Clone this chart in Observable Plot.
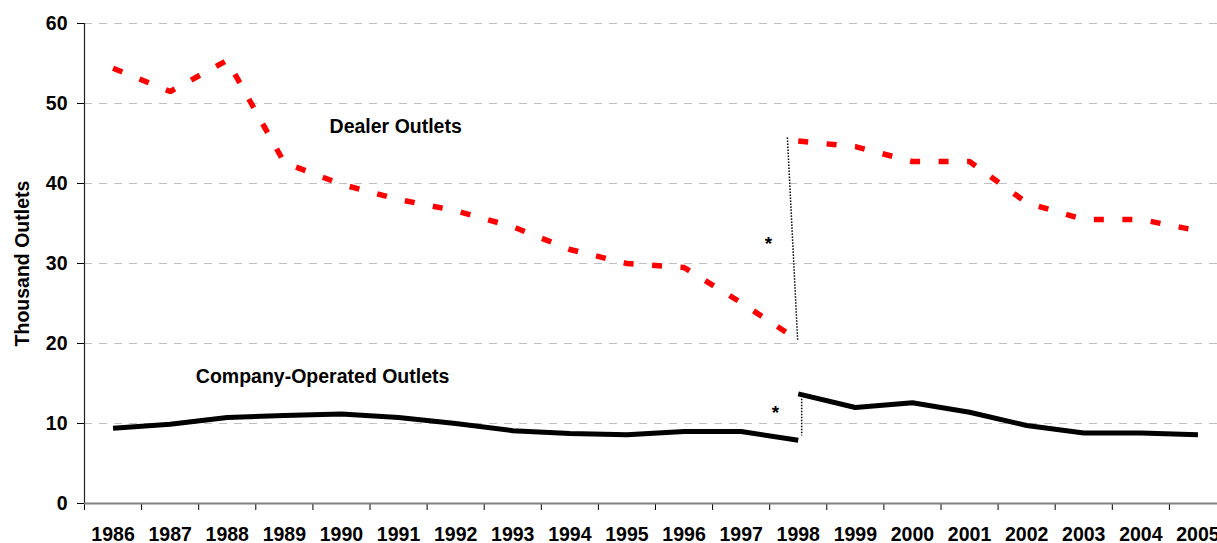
<!DOCTYPE html>
<html>
<head>
<meta charset="utf-8">
<script src="https://cdn.jsdelivr.net/npm/d3@7"></script>
<script src="https://cdn.jsdelivr.net/npm/@observablehq/plot@0.6"></script>
<style>
  html, body { margin: 0; padding: 0; background: #fff; overflow: hidden; }
  svg { font-family: "Liberation Sans", Arial, sans-serif; }
</style>
</head>
<body>
<div id="chart"></div>
<script>
// Category labels (one band per year)
const years = ["1986","1987","1988","1989","1990","1991","1992","1993","1994","1995",
               "1996","1997","1998","1999","2000","2001","2002","2003","2004","2005"];

// Dealer outlets (thousands), old series 1986-1998 and new series 1998-2005
const dealerOldYears = ["1986","1987","1988","1989","1990","1991","1992","1993","1994","1995","1996","1997","1998"];
const dealerOld = [54.4, 51.5, 55.4, 42.6, 39.9, 38.0, 36.6, 34.6, 31.75, 30.0, 29.5, 25.1, 20.4];
const dealerNewYears = ["1998","1999","2000","2001","2002","2003","2004","2005"];
const dealerNew = [45.3, 44.6, 42.75, 42.75, 37.6, 35.5, 35.5, 34.1];

// Company-operated outlets (thousands)
const companyOldYears = dealerOldYears;
const companyOld = [9.4, 9.9, 10.75, 11.0, 11.2, 10.75, 10.0, 9.1, 8.75, 8.6, 9.0, 9.0, 7.9];
const companyNewYears = dealerNewYears;
const companyNew = [13.7, 12.0, 12.6, 11.4, 9.75, 8.8, 8.8, 8.6];

// Y ticks
const yTicks = [0, 10, 20, 30, 40, 50, 60];

// Series labels
const labelText = ["Dealer Outlets", "Company-Operated Outlets"];
const labelPos = [5.45, 4.17];
const labelVal = [47.1, 15.9];

// Series-break annotations (asterisks and dotted connectors), in band-index / value units
const starPos = [11.98, 12.1];
const starVal = [32.4, 11.3];
const breakX1 = [12.31, 12.56];
const breakY1 = [45.75, 13.1];
const breakX2 = [12.49, 12.56];
const breakY2 = [20.4, 8.5];

const idx = (y) => years.indexOf(y) + 0.5;
const toRows = (ys, vs) => ys.map((y, i) => ({x: idx(y), v: vs[i]}));

const W = 1217, H = 543;
const font = "Liberation Sans, Arial, sans-serif";

const plot = Plot.plot({
  width: W,
  height: H,
  marginLeft: 84,
  marginRight: -9,
  marginTop: 23,
  marginBottom: 40,
  style: {fontFamily: font, background: "#fff", overflow: "visible"},
  x: {type: "linear", domain: [0, years.length], axis: null},
  y: {domain: [0, 60], axis: null},
  marks: [
    // dashed grid
    Plot.ruleY(yTicks.filter(d => d > 0), {stroke: "#c0c0c0", strokeWidth: 1, strokeDasharray: "8,7"}),
    // y axis
    Plot.axisY({ticks: yTicks, tickSize: 7, tickPadding: 10, tickFormat: d => String(d),
      fontSize: 19.5, fontWeight: "bold", fill: "#000", stroke: "#000", label: null}),
    Plot.ruleX([0], {stroke: "#222", strokeWidth: 1.2}),
    // x axis: tick marks at band boundaries
    Plot.axisX({ticks: d3.range(0, years.length + 1), tickSize: 7, tickFormat: () => "", stroke: "#000", label: null}),
    Plot.ruleY([0], {stroke: "#808080", strokeWidth: 2}),
    // x axis: labels at band centers
    Plot.axisX({ticks: years.map((d, i) => i + 0.5), tickSize: 0, tickPadding: 24,
      tickFormat: d => years[Math.floor(d)], fontSize: 19.5, fontWeight: "bold", fill: "#000", label: null}),
    // y-axis title
    Plot.text(["Thousand Outlets"], {frameAnchor: "left", dx: -62, rotate: -90, fontSize: 19.5,
      fontWeight: "bold", fill: "#000", lineAnchor: "middle", textAnchor: "middle"}),
    // dealer lines
    Plot.line(toRows(dealerOldYears, dealerOld), {x: "x", y: "v", stroke: "#ff0000", strokeWidth: 5.5,
      strokeDasharray: "10,18.5", strokeLinecap: "butt", strokeLinejoin: "miter"}),
    Plot.line(toRows(dealerNewYears, dealerNew), {x: "x", y: "v", stroke: "#ff0000", strokeWidth: 5.5,
      strokeDasharray: "10,18.5", strokeLinecap: "butt", strokeLinejoin: "miter"}),
    // company lines
    Plot.line(toRows(companyOldYears, companyOld), {x: "x", y: "v", stroke: "#000", strokeWidth: 5,
      strokeLinecap: "butt", strokeLinejoin: "round"}),
    Plot.line(toRows(companyNewYears, companyNew), {x: "x", y: "v", stroke: "#000", strokeWidth: 5,
      strokeLinecap: "butt", strokeLinejoin: "round"}),
    // dotted connectors at the series break
    Plot.link(breakX1.map((d, i) => i), {x1: i => breakX1[i], y1: i => breakY1[i], x2: i => breakX2[i], y2: i => breakY2[i],
      stroke: "#000", strokeWidth: 1.5, strokeDasharray: "1.5,1.5"}),
    // asterisks
    Plot.text(starPos.map((d, i) => i), {x: i => starPos[i], y: i => starVal[i], text: () => "*",
      fontSize: 19, fontWeight: "bold", fill: "#000", lineAnchor: "middle"}),
    // series labels
    Plot.text(labelText.map((d, i) => i), {x: i => labelPos[i], y: i => labelVal[i], text: i => labelText[i],
      fontSize: 19.5, fontWeight: "bold", fill: "#000", lineAnchor: "middle", textAnchor: "middle"})
  ]
});
document.getElementById("chart").appendChild(plot);
</script>
</body>
</html>
